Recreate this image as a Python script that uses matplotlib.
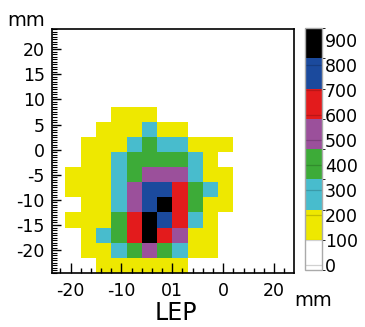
import numpy as np
import matplotlib
matplotlib.use("Agg")
import matplotlib.pyplot as plt
from matplotlib.colors import ListedColormap, BoundaryNorm
from matplotlib.ticker import FixedLocator, MultipleLocator

plt.rcParams["font.family"] = ["DejaVu Sans"]

# cell edges (mm)
x_edges = [-21, -18, -15, -12, -9, -6, -3, 0, 3, 6, 9, 12]
y_edges = [8.5, 5.5, 2.5, -0.5, -3.5, -6.5, -9.5, -12.5, -15.5, -18.5, -21.5, -24.5]

# counts per cell, rows from top (y=8.5) to bottom (y=-24.5)
counts = [
    [0, 0, 0, 150, 150, 150, 0, 0, 0, 0, 0],
    [0, 0, 150, 150, 150, 270, 150, 150, 0, 0, 0],
    [0, 150, 150, 150, 270, 390, 270, 270, 150, 150, 150],
    [0, 150, 150, 270, 390, 390, 390, 390, 270, 150, 0],
    [150, 150, 150, 270, 390, 510, 510, 510, 270, 150, 150],
    [150, 150, 150, 270, 510, 760, 760, 640, 390, 270, 150],
    [0, 150, 150, 270, 510, 760, 880, 640, 390, 150, 150],
    [150, 150, 150, 390, 640, 880, 760, 640, 270, 150, 0],
    [0, 150, 270, 390, 640, 880, 640, 510, 150, 150, 0],
    [0, 150, 150, 270, 390, 510, 390, 270, 150, 150, 0],
    [0, 0, 150, 150, 150, 150, 150, 150, 0, 0, 0],
]

level_colors = ["#ffffff", "#eee800", "#48bccd", "#3dab38", "#9b509b",
                "#e31b1c", "#1b4a9d", "#000000"]
cbar_ticks = [0, 100, 200, 300, 400, 500, 600, 700, 800, 900]
x_ticks = [-20, -10, 0, 10, 20]
x_tick_labels = ["-20", "-10", "01", "0", "20"]
y_ticks = [20, 15, 10, 5, 0, -5, -10, -15, -20]

bounds = np.linspace(-22, 948, len(level_colors) + 1)
cmap = ListedColormap(level_colors)
norm = BoundaryNorm(bounds, cmap.N)

fig = plt.figure(figsize=(3.65, 3.27), dpi=100)
ax = fig.add_axes([0.1416, 0.166, 0.6638, 0.745])
cax = fig.add_axes([0.8356, 0.1743, 0.0466, 0.740])

mesh = ax.pcolormesh(x_edges, y_edges, np.array(counts), cmap=cmap, norm=norm,
                     edgecolors="none", antialiased=False)
ax.set_xlim(-23.7, 23.9)
ax.set_ylim(-24.5, 24)

ax.xaxis.set_major_locator(FixedLocator(x_ticks))
ax.set_xticklabels(x_tick_labels)
ax.xaxis.set_minor_locator(MultipleLocator(2))
ax.yaxis.set_major_locator(FixedLocator(y_ticks))
ax.set_yticklabels([str(v) for v in y_ticks])
ax.yaxis.set_minor_locator(MultipleLocator(0.5))

ax.tick_params(which="both", direction="in", top=False, right=False,
               labelsize=12.5, width=1.0)
ax.tick_params(axis="x", which="major", length=7, pad=7)
ax.tick_params(axis="x", which="minor", length=3.5)
ax.tick_params(axis="y", which="major", length=6.5, pad=5)
ax.tick_params(axis="y", which="minor", length=3.5, width=0.8)
for sp in ax.spines.values():
    sp.set_linewidth(1.2)

cb = fig.colorbar(mesh, cax=cax, boundaries=bounds, ticks=cbar_ticks)
cb.ax.set_yticklabels([str(t) for t in cbar_ticks])
cb.ax.tick_params(direction="in", length=12.2, width=0.9,
                  color=(0, 0, 0, 0.18), labelsize=12.5, pad=2)
cb.outline.set_edgecolor("#aaaaaa")
cb.outline.set_linewidth(1.0)

fig.text(26 / 365, 1 - 21 / 327, "mm", ha="center", va="center", fontsize=14)
fig.text(313 / 365, 1 - 301 / 327, "mm", ha="center", va="center", fontsize=14)
fig.text(176 / 365, 1 - 325 / 327, "LEP", ha="center", va="bottom", fontsize=17)

fig.savefig("out.png", dpi=100)
